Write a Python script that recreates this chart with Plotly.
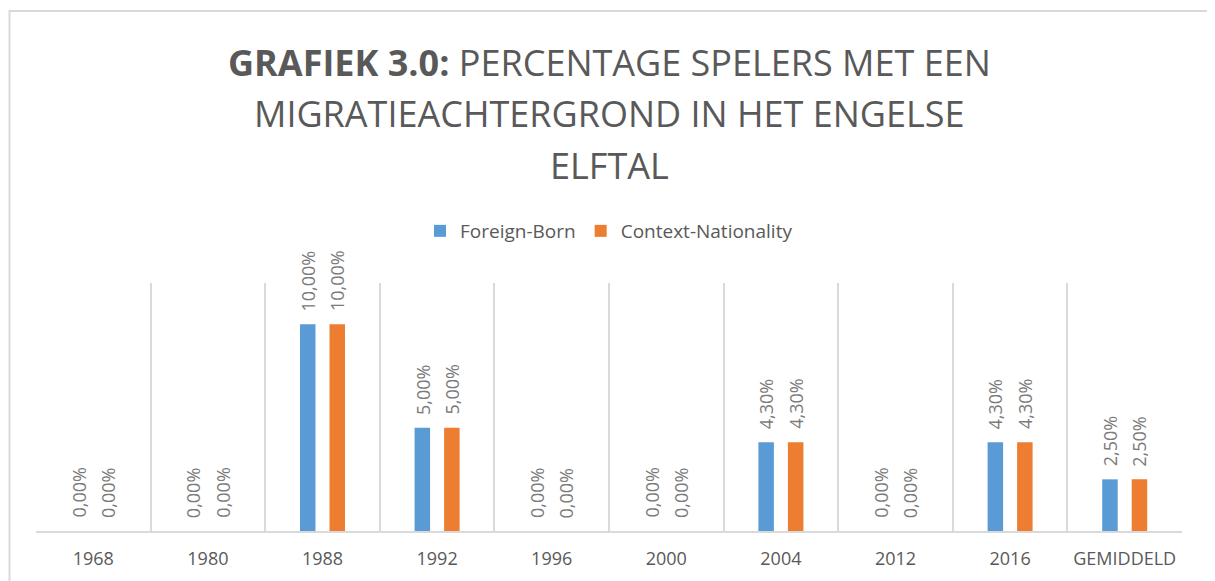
import plotly.graph_objects as go

categories = ["1968", "1980", "1988", "1992", "1996", "2000", "2004", "2012", "2016", "GEMIDDELD"]
foreign_born = [0.0, 0.0, 0.10, 0.05, 0.0, 0.0, 0.043, 0.0, 0.043, 0.025]
context_nationality = [0.0, 0.0, 0.10, 0.05, 0.0, 0.0, 0.043, 0.0, 0.043, 0.025]
series_names = ["Foreign-Born", "Context-Nationality"]
colors = ["#5B9BD5", "#ED7D31"]
title_lines = ["<b>GRAFIEK 3.0:</b> PERCENTAGE SPELERS MET EEN",
               "MIGRATIEACHTERGROND IN HET ENGELSE",
               "ELFTAL"]

OFF = 8  # default page body margin
W, H = 1215 - OFF, 581 - OFF
L, R, T, B = 36 - OFF, 33, 283 - OFF, 50
plot_h = H - T - B
plot_w = W - L - R

fig = go.Figure()
for name, vals, col in zip(series_names, [foreign_born, context_nationality], colors):
    fig.add_trace(go.Bar(x=categories, y=vals, name=name, marker_color=col,
                         marker_line_width=0))

# data labels
cat_w = plot_w / len(categories)
slot = cat_w * (1 - 0.485) / 2
annotations = []
for k, vals in enumerate([foreign_born, context_nationality]):
    shift = (k - 0.5) * slot
    for i, v in enumerate(vals):
        txt = ("%.2f%%" % (v * 100)).replace(".", ",")
        annotations.append(dict(x=i, y=v, xref="x", yref="y", text=txt, showarrow=False,
                                textangle=-90, xanchor="center", yanchor="bottom",
                                xshift=shift, yshift=11,
                                font=dict(family="Open Sans", size=18, color="#7a7a7a")))

def py(ypx):
    return (581 - B - ypx) / plot_h

for line, ypx in zip(title_lines, [62, 113, 165]):
    annotations.append(dict(x=0.5, y=py(ypx), xref="paper", yref="paper", text=line,
                            showarrow=False, xanchor="center", yanchor="middle",
                            font=dict(family="Open Sans", size=36, color="#595959")))

fig.update_layout(
    width=W, height=H,
    margin=dict(l=L, r=R, t=T, b=B),
    paper_bgcolor="white", plot_bgcolor="white",
    barmode="group", bargap=0.485, bargroupgap=0.475,
    separators=",.",
    showlegend=True,
    legend=dict(orientation="h", x=0.5, xanchor="center", y=py(231), yanchor="middle",
                font=dict(family="Open Sans", size=19, color="#595959"),
                itemwidth=30, tracegroupgap=0),
    annotations=annotations,
    shapes=[dict(type="rect", xref="paper", yref="paper",
                 x0=(9.5 - 36) / plot_w, x1=1.2, y0=-0.5, y1=py(11),
                 line=dict(color="#D9D9D9", width=2), layer="below")],
)
fig.update_xaxes(type="category", range=[-0.5, len(categories) - 0.5],
                 tickson="boundaries", showgrid=True, gridcolor="#D9D9D9",
                 gridwidth=1.5, showline=True, linecolor="#D9D9D9", linewidth=2,
                 ticks="", tickangle=0,
                 tickfont=dict(family="Open Sans", size=18, color="#595959"),
                 ticklabelstandoff=10, automargin=False)
fig.update_yaxes(range=[0, 0.12], showgrid=False, zeroline=False, showticklabels=False,
                 showline=False)

fig.write_html("out.html")
